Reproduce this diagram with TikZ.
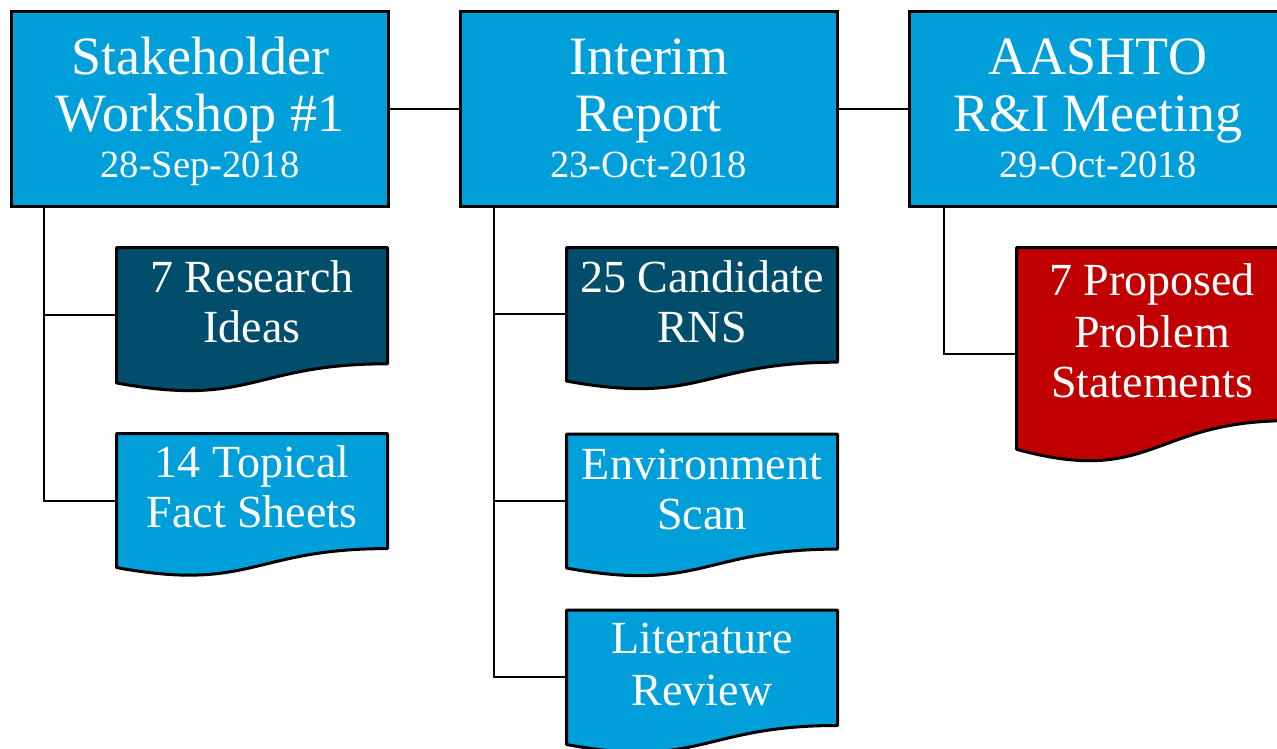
\documentclass[tikz,border=0pt]{standalone}
\usepackage{fontspec}
\setmainfont{Liberation Serif}
\usetikzlibrary{calc}
\definecolor{lblue}{RGB}{0,159,218}
\definecolor{dteal}{RGB}{0,77,108}
\definecolor{dred}{RGB}{192,0,0}
\tikzset{
 topbox/.style={draw=black, line width=3pt, fill=lblue, rectangle, minimum width=377pt, minimum height=195pt, inner sep=0pt, outer sep=0pt},
 docbox/.style={rectangle, minimum width=271pt, inner sep=0pt, outer sep=0pt},
 docline/.style={draw=black, line width=3pt, line join=round},
 link/.style={draw=black, line width=2pt},
 bigtxt/.style={text=white, anchor=base, inner sep=0pt, font=\fontsize{54}{56}\selectfont},
 datetxt/.style={text=white, anchor=base, inner sep=0pt, font=\fontsize{38.5}{40}\selectfont},
 doctxt/.style={text=white, anchor=base, inner sep=0pt, font=\fontsize{46}{48}\selectfont},
}
% #1 name, #2 left x, #3 top y, #4 shape height, #5 fill colour
\newcommand{\mydoc}[5]{%
 \pgfmathsetmacro{\dh}{0.934*#4}%
 \node[docbox, minimum height=\dh pt, anchor=north west] (#1) at (#2,#3) {};
 \filldraw[fill=#5, docline] (#1.north west) -- (#1.north east) -- ($(#1.north east)+(0,{0.802*#4})$) .. controls ($(#1.north)+(0,{0.802*#4})$) and ($(#1.north)+(0,{1.107*#4})$) .. (#1.south west) -- cycle;
}
\begin{document}
\begin{tikzpicture}[x=1pt,y=-1pt]
\useasboundingbox (0,0) rectangle (1277,748);
\clip (0,0) rectangle (1277,748);
\fill[white] (0,0) rectangle (1277,748);

% top boxes
\node[topbox] (b1) at (200,109) {};
\node[topbox] (b2) at (648.5,109) {};
\node[topbox] (b3) at (1098,109) {};

\node[bigtxt] (b1a) at (200,74) {Stakeholder};
\node[bigtxt] (b1b) at (200,131) {Workshop \#1};
\node[datetxt] (b1c) at (200,177) {28-Sep-2018};
\node[bigtxt] (b2a) at (648.5,74) {Interim};
\node[bigtxt] (b2b) at (648.5,131) {Report};
\node[datetxt] (b2c) at (648.5,177) {23-Oct-2018};
\node[bigtxt] (b3a) at (1098,74) {AASHTO};
\node[bigtxt] (b3b) at (1098,131) {R\&I Meeting};
\node[datetxt] (b3c) at (1098,177) {29-Oct-2018};

% documents
\mydoc{d1}{116.5}{247.5}{145}{dteal}
\mydoc{d2}{116.5}{433.5}{143.5}{lblue}
\mydoc{d3}{566.5}{247.5}{143}{dteal}
\mydoc{d4}{566.5}{434}{143.5}{lblue}
\mydoc{d5}{566.5}{610}{144}{lblue}
\mydoc{d6}{1016.5}{247.5}{216}{dred}

\node[doctxt] (d1a) at (252,292) {7 Research};
\node[doctxt] (d1b) at (252,342) {Ideas};
\node[doctxt] (d2a) at (252,477) {14 Topical};
\node[doctxt] (d2b) at (252,527) {Fact Sheets};
\node[doctxt] (d3a) at (702,292) {25 Candidate};
\node[doctxt] (d3b) at (702,342) {RNS};
\node[doctxt] (d4a) at (702,479) {Environment};
\node[doctxt] (d4b) at (702,529) {Scan};
\node[doctxt] (d5a) at (702,653) {Literature};
\node[doctxt] (d5b) at (702,705) {Review};
\node[doctxt] (d6a) at (1152,295) {7 Proposed};
\node[doctxt] (d6b) at (1152,347) {Problem};
\node[doctxt] (d6c) at (1152,397) {Statements};

% connectors
\draw[link] (b1) -- (b2);
\draw[link] (b2) -- (b3);
\draw[link] ([xshift=32.5pt]b1.south west) |- (d1.west);
\draw[link] ([xshift=32.5pt]b1.south west) |- (d2.west);
\draw[link] ([xshift=34pt]b2.south west) |- (d3.west);
\draw[link] ([xshift=34pt]b2.south west) |- (d4.west);
\draw[link] ([xshift=34pt]b2.south west) |- (d5.west);
\draw[link] ([xshift=34pt]b3.south west) |- ([yshift=-6pt]d6.west);
\end{tikzpicture}
\end{document}
